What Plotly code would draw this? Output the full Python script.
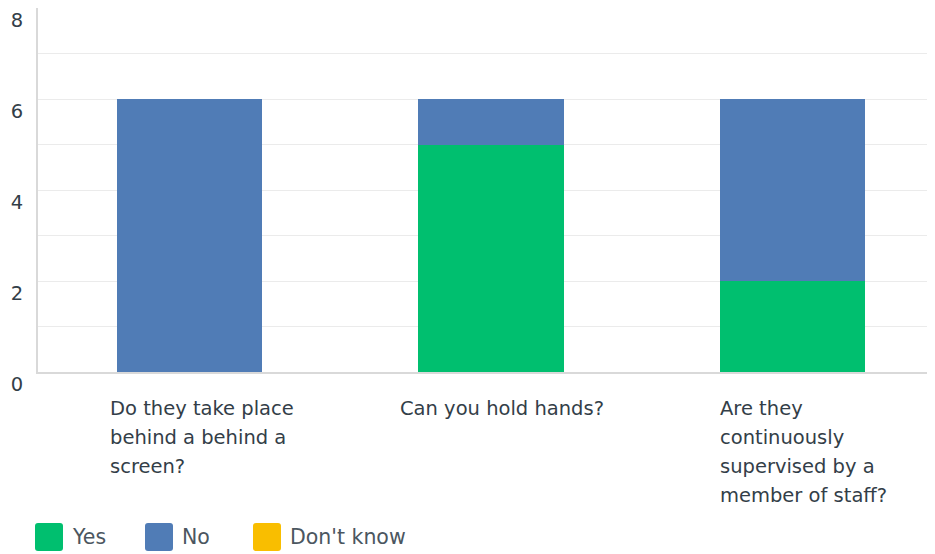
import plotly.graph_objects as go

categories = ["Do they take place behind a behind a screen?",
              "Can you hold hands?",
              "Are they continuously supervised by a member of staff?"]
category_lines = [["Do they take place", "behind a behind a", "screen?"],
                  ["Can you hold hands?"],
                  ["Are they", "continuously", "supervised by a", "member of staff?"]]
series_names = ["Yes", "No", "Don't know"]
yes_values = [0, 5, 2]
no_values = [6, 1, 4]
dontknow_values = [0, 0, 0]
y_ticks = [0, 2, 4, 6, 8]

colors = ["#00bf6f", "#507cb6", "#f9be00"]
FONT = "DejaVu Sans"
TEXT = "#333e48"

fig = go.Figure()
xs = [0, 1, 2]
for name, vals, col in zip(series_names, [yes_values, no_values, dontknow_values], colors):
    fig.add_trace(go.Bar(x=xs, y=vals, name=name, marker=dict(color=col, line=dict(width=0)),
                         width=0.484, showlegend=False))

annotations = []
offsets = [-82, -93, -74]
for i, lines in enumerate(category_lines):
    for k, line in enumerate(lines):
        annotations.append(dict(x=xs[i], y=0, xref="x", yref="y", text=line, showarrow=False,
                                xanchor="left", yanchor="middle", xshift=offsets[i],
                                yshift=-(36 + 29 * k),
                                font=dict(family=FONT, size=19.5, color=TEXT)))

def rrect(x0, y0, x1, y1, r=3):
    return (f"M{x0+r},{y0} L{x1-r},{y0} Q{x1},{y0} {x1},{y0+r} L{x1},{y1-r} Q{x1},{y1} {x1-r},{y1} "
            f"L{x0+r},{y1} Q{x0},{y1} {x0},{y1-r} L{x0},{y0+r} Q{x0},{y0} {x0+r},{y0} Z")

shapes = []
leg_x = [-3, 107, 215]
for name, col, lx in zip(series_names, colors, leg_x):
    shapes.append(dict(type="path", xref="paper", yref="paper", xsizemode="pixel", ysizemode="pixel",
                       xanchor=0, yanchor=0, path=rrect(lx, -179, lx + 28, -151, 3),
                       fillcolor=col, line=dict(width=0)))
    annotations.append(dict(x=0, y=0, xref="paper", yref="paper", text=name, showarrow=False,
                            xanchor="left", yanchor="middle", xshift=lx + 35, yshift=-165,
                            font=dict(family=FONT, size=20.5, color="#4b5660")))

fig.update_layout(
    width=927, height=546,
    margin=dict(l=30, r=0, t=0, b=182),
    barmode="stack",
    plot_bgcolor="white", paper_bgcolor="white",
    font=dict(family=FONT, color=TEXT),
    xaxis=dict(range=[-0.5025, 2.4727], showticklabels=False, showgrid=False, zeroline=False,
               showline=True, linecolor="#d9d9d9", linewidth=2, ticks="", automargin=False),
    yaxis=dict(range=[0, 8], tickvals=y_ticks, showgrid=True, gridcolor="#ebebeb", gridwidth=1,
               minor=dict(dtick=1, showgrid=True, gridcolor="#ebebeb"),
               zeroline=False, showline=True, linecolor="#d9d9d9", linewidth=2,
               tickfont=dict(family=FONT, size=19.5, color=TEXT), ticks="",
               ticklabelstandoff=9, ticklabelshift=12, ticklabeloverflow="allow",
               automargin=False),
    annotations=annotations,
    shapes=shapes,
    bargap=0,
)
fig.write_html("out.html")
